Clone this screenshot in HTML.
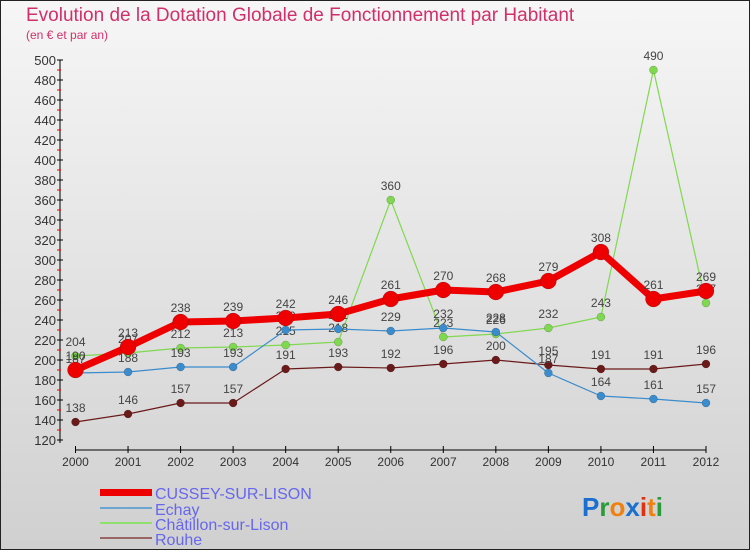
<!DOCTYPE html>
<html><head><meta charset="utf-8"><style>
html,body{margin:0;padding:0}
body{width:750px;height:550px;overflow:hidden;font-family:"Liberation Sans",sans-serif}
</style></head><body>
<svg id="chart" width="750" height="550" xmlns="http://www.w3.org/2000/svg" font-family="Liberation Sans, sans-serif">
<defs><linearGradient id="bg" x1="0" y1="0" x2="0" y2="1"><stop offset="0" stop-color="#f6f6f6"/><stop offset="1" stop-color="#d0d0d0"/></linearGradient></defs>
<rect x="0.5" y="0.5" width="749" height="549" fill="url(#bg)" stroke="#222"/>
<text x="26" y="21" font-size="19" fill="#d0306a">Evolution de la Dotation Globale de Fonctionnement par Habitant</text>
<text x="26" y="39" font-size="12" fill="#d0306a">(en € et par an)</text>
<g id="axes"></g>
<g id="series"></g>
<g font-size="16" fill="#6666ee">
<rect x="100" y="489" width="52" height="7" fill="#ee0000"/>
<text x="155" y="499">CUSSEY-SUR-LISON</text>
<rect x="100" y="507" width="52" height="2" fill="#6aa6d0"/>
<text x="155" y="515">Echay</text>
<rect x="100" y="522" width="52" height="2" fill="#90e070"/>
<text x="155" y="530">Châtillon-sur-Lison</text>
<rect x="100" y="537" width="52" height="2" fill="#996666"/>
<text x="155" y="545">Rouhe</text>
</g>
<g font-size="26" font-weight="bold">
<text x="582" y="516"><tspan fill="#1a6fd0">P</tspan><tspan fill="#2a9a3a">r</tspan><tspan fill="#f08010">o</tspan><tspan fill="#1a6fd0">x</tspan><tspan fill="#e03010">i</tspan><tspan fill="#f08010">t</tspan><tspan fill="#2a9a3a">i</tspan></text>
</g>
</svg>
<script>
const years=[2000,2001,2002,2003,2004,2005,2006,2007,2008,2009,2010,2011,2012];
const cussey=[190,213,238,239,242,246,261,270,268,279,308,261,269];
const echay=[187,188,193,193,230,231,229,232,228,187,164,161,157];
const chatillon=[204,207,212,213,215,218,360,223,226,232,243,490,257];
const rouhe=[138,146,157,157,191,193,192,196,200,195,191,191,196];
const yTicks=[120,140,160,180,200,220,240,260,280,300,320,340,360,380,400,420,440,460,480,500];
const NS="http://www.w3.org/2000/svg";
const x0=75.5,x1=706,yMin=120,yMax=500,yTop=60,yBot=440;
function X(i){return x0+(x1-x0)*i/(years.length-1);}
function Y(v){return yBot-(v-yMin)*(yBot-yTop)/(yMax-yMin);}
function mk(tag,attrs,parent){const e=document.createElementNS(NS,tag);for(const k in attrs)e.setAttribute(k,attrs[k]);parent.appendChild(e);return e;}
const axes=document.getElementById('axes');
const ya=mk('line',{x1:60,y1:yTop,x2:60,y2:yBot+3,stroke:'#000'},axes);


yTicks.forEach(v=>{
 mk('line',{x1:57,y1:Y(v),x2:63,y2:Y(v),stroke:'#000'},axes);
 if(v<yMax){mk('line',{x1:57,y1:Y(v+10),x2:61,y2:Y(v+10),stroke:'#e00'},axes);}
 const t=mk('text',{x:56,y:Y(v)+5,'text-anchor':'end','font-size':13,fill:'#333'},axes);
 t.textContent=v;
 
 
});
const xa=mk('line',{x1:x0,y1:450,x2:x1,y2:450,stroke:'#000'},axes);


years.forEach((yr,i)=>{
 mk('line',{x1:X(i),y1:446,x2:X(i),y2:453,stroke:'#000'},axes);
 const t=mk('text',{x:X(i),y:466,'text-anchor':'middle','font-size':12,fill:'#333'},axes);
 t.textContent=yr;
 
 
});
const sg=document.getElementById('series');
function draw(name,data,color,w,r,labelColor){
 const g=mk('g',{},sg);
 
 
 const l=mk('polyline',{points:data.map((v,i)=>X(i)+','+Y(v)).join(' '),fill:'none',stroke:color,'stroke-width':w,'stroke-linejoin':'round'},g);
 
 
 data.forEach((v,i)=>{
  const c=mk('circle',{cx:X(i),cy:Y(v),r:r,fill:color,stroke:'rgba(0,0,0,0.3)','stroke-width':0.5},g);
  
  
  const t=mk('text',{x:X(i),y:Y(v)-10,'text-anchor':'middle','font-size':12,fill:'#444'},g);
  t.textContent=v;
  
  
 });
}
draw('rouhe',rouhe,'#6b1a1a',1.2,4);
draw('chatillon',chatillon,'#80d850',1.2,4);
draw('echay',echay,'#3a8ccc',1.2,4);
draw('cussey',cussey,'#ee0000',7,8);
</script>
</body></html>
